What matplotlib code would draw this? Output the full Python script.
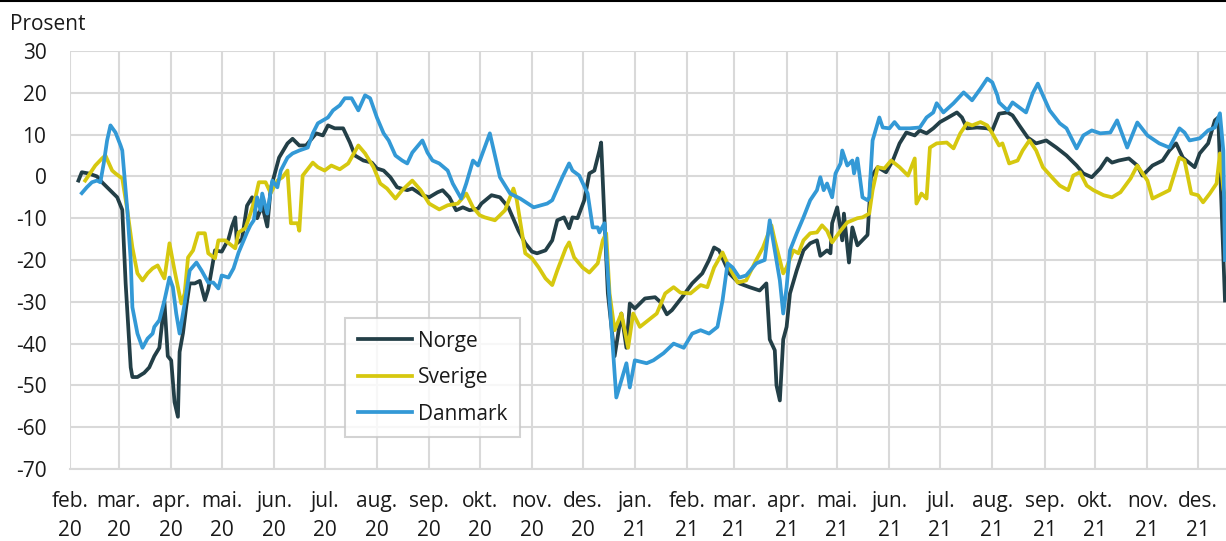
import matplotlib
matplotlib.use("Agg")
import matplotlib.pyplot as plt
from matplotlib.lines import Line2D
import pandas as pd

plt.rcParams['font.family'] = ['Open Sans', 'DejaVu Sans']

# x = days since 1 Feb 2020
start = pd.Timestamp('2020-02-01')
month_starts = pd.date_range('2020-02-01', '2021-12-01', freq='MS')
month_labels = ['feb.\n20', 'mar.\n20', 'apr.\n20', 'mai.\n20', 'jun.\n20', 'jul.\n20',
                'aug.\n20', 'sep.\n20', 'okt.\n20', 'nov.\n20', 'des.\n20', 'jan.\n21',
                'feb.\n21', 'mar.\n21', 'apr.\n21', 'mai.\n21', 'jun.\n21', 'jul.\n21',
                'aug.\n21', 'sep.\n21', 'okt.\n21', 'nov.\n21', 'des.\n21']
y_ticks = [-70, -60, -50, -40, -30, -20, -10, 0, 10, 20, 30]

norge = [(5,-1),(7,1),(11,0.7),(16,0),(19,-1.4),(23,-3),(28,-5),(31,-8),(33,-25.6),(36,-45.7),
         (37,-48),(40,-48),(44,-47),(47,-45.7),(50,-43),(53,-41),(56,-30),(58,-43),(60,-44),(62,-54),
         (64,-57.5),(65,-42),(67,-37.5),(69,-31),(71,-25.6),(74,-25.6),(77,-25),(80,-29.6),(82,-27),
         (86,-17.7),(90,-18),(94,-15),(96,-12),(98,-9.8),(99,-16),(102,-15),(105,-7),(108,-5),(111,-10),
         (114,-7),(117,-12),(119,-3),(124,4.5),(129,7.9),(132,9),(136,7.4),(140,7.4),(146,10.3),(150,9.8),
         (153,12.2),(157,11.5),(162,11.5),(166,8.1),(169,5),(174,3.8),(179,3.3),(182,1.9),(186,1.4),
         (190,-0.2),(194,-2.6),(200,-3.3),(203,-2.9),(209,-4.5),(213,-5),(218,-3.8),(221,-3.3),(225,-5),
         (229,-8.1),(233,-7.4),(237,-8.1),(242,-7.7),(244,-6.5),(250,-4.5),(255,-5),(260,-7.4),(266,-13),
         (270,-16),(274,-18),(277,-18.4),(282,-17.7),(286,-15.3),(289,-10.5),(293,-9.8),(296,-12.4),
         (298,-9.8),(301,-10),(305,-5.7),(308,0.7),(311,1.4),(314,6.2),(315,8.1),(317,-10.5),(319,-28),
         (323,-43),(327,-32.8),(330,-41),(332,-30.4),(335,-31.6),(341,-29.2),(347,-28.9),(350,-30),
         (354,-33),(357,-32),(363,-28.9),(369,-25.6),(375,-23.2),(379,-20),(382,-17),(385,-17.7),
         (391,-23.2),(397,-25.6),(403,-26.5),(409,-27.3),(413,-25.6),(415,-39),(418,-41.6),(419,-50),
         (421,-53.6),(423,-39),(425,-36),(427,-28),(431,-22.5),(435,-17.7),(439,-16),(443,-15.3),
         (445,-19),(449,-17.7),(451,-18.4),(452,-11.2),(455,-7.4),(458,-15.3),(459,-8.9),(462,-20.6),
         (464,-12.2),(467,-16.5),(473,-14),(474,-7.4),(475,-0.2),(479,2.2),(484,1),(488,3.8),(492,7.9),
         (496,10.5),(501,9.8),(504,11),(508,10.3),(512,11.5),(516,13),(520,13.9),(526,15.3),(529,14.1),
         (532,11.5),(538,11.7),(544,11.5),(547,11),(551,15),(556,15.3),(559,14.6),(563,12.2),(568,9.3),
         (573,7.9),(579,8.6),(585,6.9),(591,5),(597,2.6),(601,0.7),(606,-0.2),(611,1.9),(615,4.3),
         (618,3.3),(622,3.8),(628,4.3),(633,2.6),(636,0.2),(642,2.6),(648,3.8),(652,6.2),(656,7.9),
         (660,4.5),(667,2.2),(670,5.5),(675,7.9),(679,13.4),(681,14.1),(683,-8.1),(685,-29.7)]

sverige = [(9,-1),(15,2.6),(19,4.3),(21,5),(25,1.4),(27,0.7),(31,-0.5),(34,-8.1),(37,-17),(40,-23.2),
           (43,-24.9),(46,-23.2),(49,-22),(52,-21.3),(55,-23.7),(56,-24.4),(59,-16),(62,-22.5),(64,-26.5),
           (66,-30.4),(68,-28),(70,-19.4),(73,-17.7),(76,-13.6),(80,-13.6),(82,-18.4),(86,-19.6),(88,-15.3),
           (92,-15.3),(98,-17.2),(100,-13.4),(104,-12.4),(107,-8.9),(110,-5),(112,-1.4),(116,-1.4),(119,-4),
           (123,-1),(126,-0.2),(129,1.4),(131,-11.2),(135,-11.2),(136,-13),(138,0.2),(144,3.3),(147,2.2),
           (151,1.4),(155,2.6),(160,1.7),(165,3.1),(171,7.4),(175,5.5),(180,2.2),(184,-1.7),(188,-2.9),
           (193,-5.3),(197,-3.3),(203,-1),(208,-3.3),(213,-6.5),(219,-7.9),(224,-6.9),(230,-6.5),(235,-4.1),
           (239,-7.4),(243,-9.3),(246,-9.8),(252,-10.5),(258,-8.1),(263,-2.9),(265,-5.7),(270,-18.4),
           (274,-19.6),(278,-21.8),(282,-24.4),(286,-26),(289,-22.5),(294,-17.2),(296,-15.8),(299,-19.4),
           (304,-21.8),(308,-23),(313,-20.8),(316,-15.3),(318,-13.6),(320,-28),(323,-36.8),(327,-32.8),
           (329,-36.8),(331,-41),(334,-32.8),(338,-36),(343,-34.4),(348,-32.8),(353,-28),(358,-26.5),
           (362,-27.8),(368,-28),(374,-26),(378,-26.5),(382,-21.8),(387,-18.2),(391,-21.8),(396,-25.4),
           (401,-24.9),(407,-20),(411,-17),(416,-11.7),(418,-15.3),(421,-20),(423,-23.2),(425,-21.8),
           (429,-17.7),(432,-18.4),(435,-15.3),(439,-13.6),(443,-13.4),(446,-11.7),(449,-13),(452,-15.8),
           (457,-13),(461,-11),(467,-10),(470,-9.8),(474,-8.9),(476,-3.3),(479,2.2),(483,1.9),(487,3.8),
           (492,2.2),(497,0.2),(501,4.3),(502,-6.5),(505,-4.1),(508,-5.3),(510,6.9),(514,7.9),(520,8.1),
           (524,6.7),(528,10.3),(532,12.7),(535,12.2),(540,13),(544,12.2),(547,10.3),(551,7.4),(553,7.9),
           (557,3.1),(562,3.8),(565,6.2),(569,8.6),(573,6.2),(577,2.2),(583,-0.5),(587,-2.2),(592,-3.3),
           (595,0.2),(599,1),(603,-2.2),(607,-3.3),(613,-4.5),(618,-5),(623,-3.8),(629,-0.5),(633,2.6),
           (639,-1),(642,-5.3),(646,-4.5),(652,-3.3),(658,4.5),(661,3.8),(665,-4.1),(669,-4.5),(672,-6.2),
           (676,-4.1),(680,-1.7),(682,5.5),(684,-3),(685,-5)]

danmark = [(7,-4),(10,-2.6),(13,-1.4),(16,-1),(18,-1.4),(20,3.1),(22,8.6),(24,12.2),(27,10.5),(30,7.4),
           (31,6.2),(34,-8.1),(36,-20),(37,-31.3),(40,-37.6),(43,-41),(46,-38.8),(49,-37.6),(50,-36),
           (53,-34.4),(56,-29.7),(59,-24.2),(61,-26.5),(63,-32.8),(65,-37.6),(68,-30.4),(71,-22.5),
           (75,-20.6),(78,-22.5),(82,-25.4),(85,-25.4),(88,-26.8),(90,-23.7),(94,-24.2),(97,-22),(100,-18.2),
           (103,-15.3),(105,-13.4),(107,-11.7),(109,-10.5),(111,-5),(113,-8.1),(114,-4.1),(117,-8.9),
           (120,-1),(123,-2.6),(125,1.4),(129,4.5),(132,5.5),(136,6.2),(141,6.9),(144,10.3),(147,12.7),
           (150,13.4),(153,14.1),(156,15.8),(160,17),(163,18.7),(167,18.7),(171,15.8),(175,19.4),(178,18.7),
           (182,14.1),(186,10.3),(189,8.6),(193,5),(197,3.8),(200,3.1),(203,5.7),(209,8.6),(212,5.7),
           (215,3.8),(219,3.1),(224,1.4),(227,-1.7),(232,-5.3),(235,-1.7),(239,3.8),(242,2.6),(249,10.3),
           (255,-0.2),(261,-4.1),(267,-5.3),(275,-7.4),(283,-6.5),(286,-5.7),(292,-0.2),(296,3.1),(298,1.4),
           (302,0.2),(307,-4.1),(310,-12.2),(313,-12.2),(314,-13.4),(317,-11.2),(320,-29.7),(324,-52.9),
           (327,-48.8),(330,-44.7),(332,-50.5),(335,-44),(342,-44.7),(346,-44),(352,-42.3),(358,-40),
           (364,-41),(369,-37.6),(374,-36.8),(379,-37.6),(384,-36),(387,-29.7),(390,-20.8),(393,-21.8),
           (397,-24.2),(401,-23.7),(407,-20.8),(412,-20),(415,-10.5),(418,-17.7),(421,-24.9),(423,-32.8),
           (425,-26.5),(427,-17.7),(431,-13.6),(435,-9.8),(439,-5.7),(443,-3.3),(445,-0.2),(447,-3.3),
           (449,-1.7),(452,-5),(454,0.7),(457,3.1),(458,6.2),(461,2.6),(464,3.8),(465,0.7),(467,4.3),
           (470,-5),(473,-5.7),(474,-5),(476,8.6),(480,14.1),(482,11.7),(486,11.5),(489,13),(492,11.5),
           (498,11.5),(504,11.7),(508,14.1),(512,15.3),(514,17.5),(518,15.3),(524,17.5),(530,20.1),
           (535,18.2),(540,21),(544,23.4),(547,22.5),(550,19.4),(551,17.7),(556,15.8),(559,17.7),(563,16.5),
           (567,15.3),(571,19.9),(574,22.2),(577,19.4),(581,15.8),(587,12.7),(591,11.5),(597,6.7),(601,9.8),
           (606,11),(611,10.3),(617,10.5),(621,13.4),(627,6.9),(633,12.9),(639,9.8),(646,7.9),(652,6.9),
           (658,11.5),(661,10.5),(664,8.6),(670,9.1),(675,11),(679,11.7),(682,15.1),(684,6.2),(685,-20)]

series = [('Norge', norge, '#233f47'), ('Sverige', sverige, '#d6c80f'), ('Danmark', danmark, '#3399d6')]

fig = plt.figure(figsize=(12.26, 5.41), dpi=100)
ax = fig.add_axes([70/1226, 1-469/541, (1226-70)/1226, (469-51)/541])

for name, pts, col in series:
    xs = [p[0] for p in pts]
    ys = [p[1] for p in pts]
    ax.plot(xs, ys, color=col, lw=2.7, label=name, solid_joinstyle='round', zorder=3)

xticks = [(d - start).days for d in month_starts]
ax.set_xticks(xticks)
ax.set_xticklabels(month_labels, fontsize=15, color='#1a1a1a', linespacing=1.5)
ax.set_xlim(0, 685.6)
ax.set_ylim(-70, 30)
ax.set_yticks(y_ticks)
ax.set_yticklabels([str(v) for v in y_ticks], fontsize=15, color='#1a1a1a')
ax.tick_params(axis='both', length=0)
ax.tick_params(axis='y', pad=17)
ax.tick_params(axis='x', pad=16)
ax.grid(True, color='#d9d9d9', lw=1.5, zorder=0)
ax.set_axisbelow(True)
for s in ['top', 'right', 'left']:
    ax.spines[s].set_visible(False)
ax.spines['bottom'].set_color('#d9d9d9')
ax.spines['bottom'].set_linewidth(1.5)

leg = ax.legend(loc='upper left', bbox_to_anchor=((345-70)/1156, (469-318)/418),
                borderaxespad=0, fontsize=15, frameon=True, fancybox=False,
                handlelength=2.6, handletextpad=0.3, labelspacing=0.75, borderpad=0.6)
leg.get_frame().set_edgecolor('#c8c8c8')
leg.get_frame().set_linewidth(1.5)
for t in leg.get_texts():
    t.set_color('#1a1a1a')

fig.text(10/1226, 1-24/541, 'Prosent', fontsize=15, va='center', ha='left', color='#1a1a1a')
fig.add_artist(Line2D([0, 1], [1-1/541, 1-1/541], color='black', lw=1.5, transform=fig.transFigure))

fig.savefig('out.png', dpi=100)
